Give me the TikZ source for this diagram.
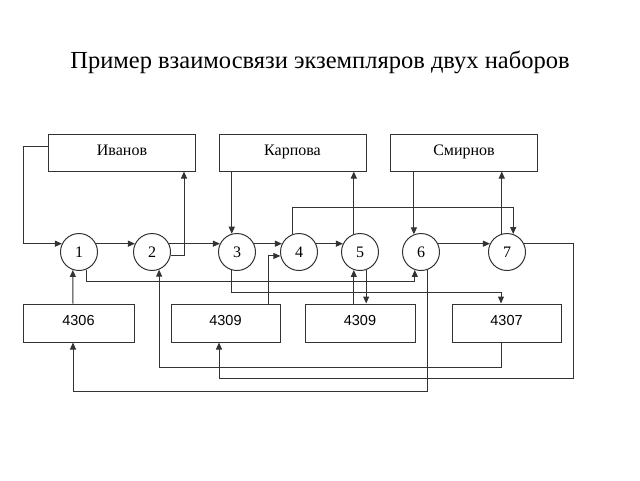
\documentclass[tikz,border=0pt]{standalone}
\usepackage{fontspec}
\setmainfont{Liberation Serif}
\newfontfamily\numfont{Liberation Sans}
\usetikzlibrary{arrows.meta,calc}
\begin{document}
\begin{tikzpicture}[x=1pt,y=-1pt,
  line width=1pt, draw=black!80,
  topbox/.style={draw, minimum width=147pt, minimum height=37pt, inner sep=0pt, text height=1.6ex, text depth=0.3ex, font=\fontsize{16}{18}\selectfont},
  botbox/.style={draw, minimum width=110pt, minimum height=38pt, inner sep=0pt, text height=1.6ex, text depth=0.3ex, font=\numfont\fontsize{14.5}{17}\selectfont},
  circ/.style={draw, circle, minimum size=37pt, inner sep=0pt, font=\fontsize{16}{18}\selectfont},
  arr/.style={-{Triangle[length=7pt,width=6pt]}}]
\useasboundingbox (0,0) rectangle (640,480);
\node[font=\fontsize{24.5}{28}\selectfont] (title) at (320,62) {Пример взаимосвязи экземпляров двух наборов};
\node[topbox] (iv) at (122,152.5) {Иванов};
\node[topbox] (ka) at (292.5,152.5) {Карпова};
\node[topbox] (sm) at (464,152.5) {Смирнов};
\node[circ] (c1) at (79,252) {1};
\node[circ] (c2) at (152,252) {2};
\node[circ] (c3) at (237,252) {3};
\node[circ] (c4) at (299,252) {4};
\node[circ] (c5) at (360,252) {5};
\node[circ] (c6) at (421,252) {6};
\node[circ] (c7) at (507,252) {7};
\node[botbox, minimum width=111pt] (b1) at (78.5,323) {4306};
\node[botbox, minimum width=109pt] (b2) at (225.5,323) {4309};
\node[botbox] (b3) at (360,323) {4309};
\node[botbox, minimum width=109pt] (b4) at (506.5,323) {4307};
% top row connections
\draw[arr] ($(iv.west)+(0,-6)$) -- ++(-25,0) |- (c1.154);
\draw[arr] (c1.26) -- (c2.154);
\draw[arr] (c2.-12) -| ($(iv.south east)+(-12,0)$);
\draw[arr] (c2.26) -- (c3.154);
\draw[arr] (c3.26) -- (c4.154);
\draw[arr] (c4.26) -- (c5.154);
\draw[arr] (c6.26) -- (c7.154);
\draw[arr] (c3.106 |- ka.south) -- (c3.106);
\draw[arr] (c5.109) -- (c5.109 |- ka.south);
\draw[arr] (c4.110) |- ($(c7.71)+(0,-27)$) -- (c7.71);
\draw[arr] (c6.112 |- sm.south) -- (c6.112);
\draw[arr] (c7.106) -- (c7.106 |- sm.south);
\draw[arr] (c7.26) -- ++(49.4,0) |- ($(b2.south)+(-6.5,36)$) -- ($(b2.south)+(-6.5,0)$);
% bottom connections
\draw[arr] ($(b1.north)+(-5.5,0)$) -- (c1.-109);
\draw[arr] (c1.-68) |- ($(c6.-109)+(0,11.5)$) -- (c6.-109);
\draw[arr] (c3.-106) |- ($(b4.north)+(-5.5,-11)$) -- ($(b4.north)+(-5.5,0)$);
\draw[arr] ($(b2.north)+(42.5,0)$) |- (c4.192);
\draw[arr] (c5.-109 |- b3.north) -- (c5.-109);
\draw[arr] (c5.-71) -- (c5.-71 |- b3.north);
\draw[arr] (c6.-71) |- ($(b1.south)+(-5.5,49)$) -- ($(b1.south)+(-5.5,0)$);
\draw[arr] ($(b4.south)+(-5.5,0)$) |- ($(c2.-68)+(0,98)$) -- (c2.-68);
\end{tikzpicture}
\end{document}
